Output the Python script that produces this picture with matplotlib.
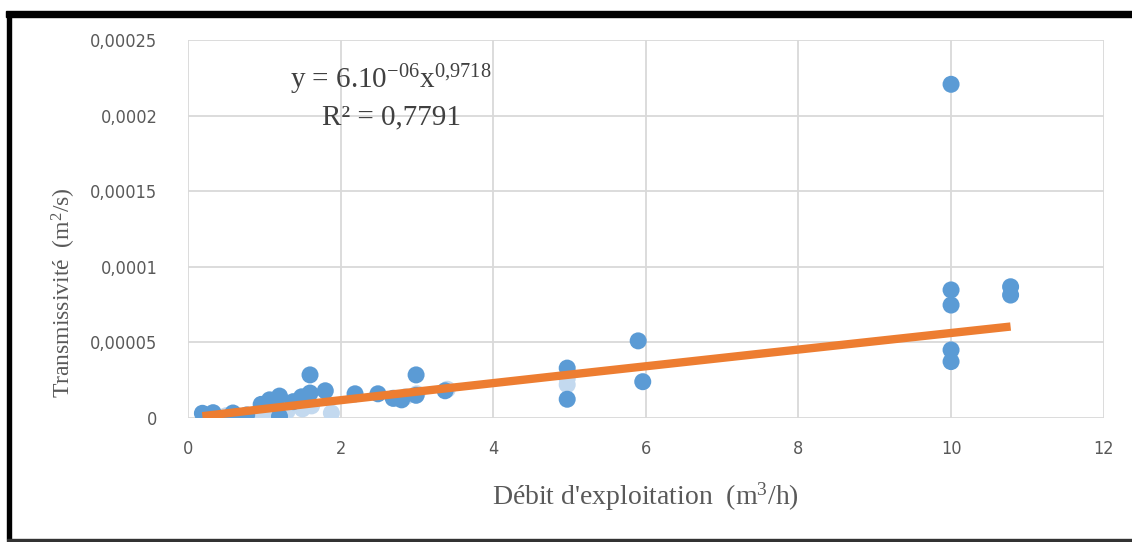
import numpy as np
import matplotlib.pyplot as plt
from matplotlib.patches import Rectangle
from matplotlib.ticker import FuncFormatter

# debit d'exploitation (m3/h) and transmissivite (m2/s)
debit = [0.19, 0.33, 0.38, 0.59, 0.59, 0.77, 0.96, 1.07, 1.2, 1.2, 1.38, 1.49,
         1.6, 1.6, 1.8, 2.19, 2.49, 2.69, 2.8, 2.99, 2.99, 3.37,
         4.97, 4.97, 5.9, 5.96, 10.0, 10.0, 10.0, 10.0, 10.0, 10.78, 10.78]
transmis = [3.1e-6, 3.5e-6, 0.3e-6, 3.3e-6, 0.2e-6, 2.0e-6, 9.0e-6, 1.2e-5, 1.45e-5, 1.0e-6, 1.08e-5, 1.4e-5,
            2.85e-5, 1.65e-5, 1.8e-5, 1.6e-5, 1.6e-5, 1.3e-5, 1.2e-5, 2.85e-5, 1.5e-5, 1.8e-5,
            3.3e-5, 1.24e-5, 5.1e-5, 2.4e-5, 2.207e-4, 8.47e-5, 7.47e-5, 4.5e-5, 3.73e-5, 8.68e-5, 8.13e-5]

# paler points sitting under the trend line
debit_pale = [0.5, 0.9, 1.07, 1.3, 1.5, 1.62, 1.88, 2.7, 2.85, 3.0, 3.4, 4.97, 4.97]
transmis_pale = [1.5e-6, 2.5e-6, 3.3e-6, 4.5e-6, 6.0e-6, 8.0e-6, 3.3e-6, 1.3e-5, 1.4e-5, 1.6e-5, 1.9e-5, 2.2e-5, 2.6e-5]

# power trend y = a * x^b
coef_a = 6e-06
coef_b = 0.9718
r2 = 0.7791

gray = '#595959'
serif = 'Liberation Serif'
plt.rcParams['mathtext.fontset'] = 'custom'
plt.rcParams['mathtext.rm'] = serif
plt.rcParams['mathtext.it'] = serif

fig = plt.figure(figsize=(11.32, 5.42), dpi=100)
ax = fig.add_axes([0.166, 0.2288, 0.809, 0.6974])

ax.scatter(debit_pale, transmis_pale, s=150, color='#c3d9ef', edgecolors='none', zorder=2)
ax.scatter(debit, transmis, s=150, color='#5b9bd5', edgecolors='none', zorder=3)

xs = np.linspace(min(debit), max(debit), 200)
ax.plot(xs, coef_a * xs ** coef_b, color='#ed7d31', lw=6, zorder=4, solid_capstyle='butt')

ax.set_xlim(0, 12)
ax.set_ylim(0, 0.00025)
ax.set_xticks(range(0, 13, 2))
ax.set_yticks(np.arange(0, 0.000251, 0.00005))
ax.yaxis.set_major_formatter(FuncFormatter(
    lambda v, p: '0' if v == 0 else ('%.5f' % v).rstrip('0').replace('.', ',')))
ax.grid(True, color='#d9d9d9', lw=1.3)
ax.set_axisbelow(True)
for s in ax.spines.values():
    s.set_visible(False)
ax.tick_params(length=0, labelsize=13, colors=gray)
ax.tick_params(axis='x', pad=16)
ax.tick_params(axis='y', pad=22)
for lab in ax.get_xticklabels() + ax.get_yticklabels():
    lab.set_fontfamily('DejaVu Sans')
    lab.set_fontstretch('condensed')

ax.set_xlabel("Débit d'exploitation  (m$^3$/h)", fontsize=20, family=serif, color=gray, labelpad=16)
ax.set_ylabel("Transmissivité  (m$^2$/s)", fontsize=17, family=serif, color=gray)
ax.yaxis.set_label_coords(-0.12, 0.333)

ax.text(0.111, 0.894, 'y = 6.10$^{-06}$x$^{0{,}9718}$', transform=ax.transAxes,
        fontsize=21, family=serif, color='#404040', va='center')
ax.text(0.146, 0.796, 'R² = 0,7791', transform=ax.transAxes,
        fontsize=21, family=serif, color='#404040', va='center')

# frame around the chart
fig.patches.append(Rectangle((0.005, 0.968), 0.995, 0.011, transform=fig.transFigure,
                             color='black', zorder=10))
fig.patches.append(Rectangle((0.006, 0.005), 0.004, 0.97, transform=fig.transFigure,
                             color='black', zorder=10))
fig.patches.append(Rectangle((0.006, 0.0), 0.994, 0.006, transform=fig.transFigure,
                             color='#333333', zorder=10))

fig.savefig('out.png', dpi=100)
